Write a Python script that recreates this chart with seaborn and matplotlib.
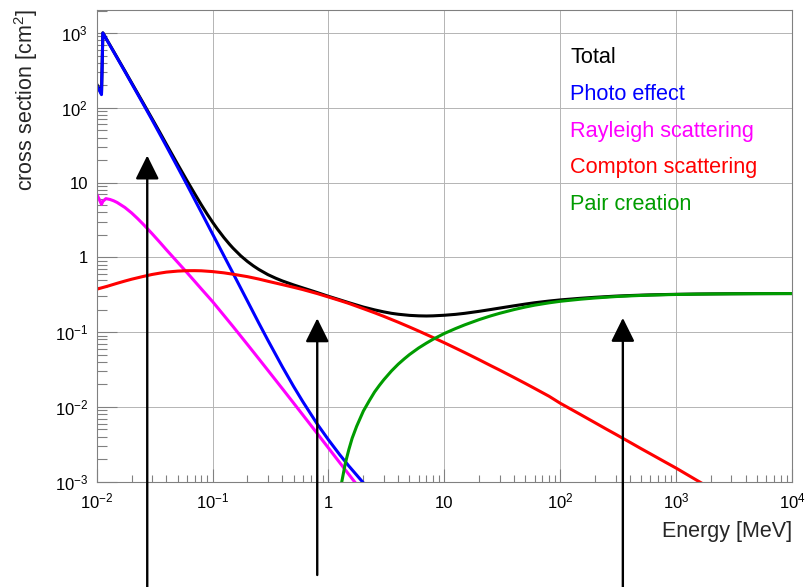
import matplotlib
matplotlib.use("Agg")
import matplotlib.pyplot as plt
from matplotlib.ticker import FixedLocator, FixedFormatter, LogLocator, NullFormatter
import numpy as np
import pandas as pd
import seaborn as sns

sns.set_theme(style="white")
plt.rcParams["font.family"] = ["Liberation Sans", "DejaVu Sans"]
plt.rcParams["mathtext.fontset"] = "custom"
plt.rcParams["mathtext.rm"] = "Liberation Sans"
plt.rcParams["mathtext.it"] = "Liberation Sans:italic"
plt.rcParams["mathtext.bf"] = "Liberation Sans:bold"

# ---- photon cross sections (germanium), energies in MeV ----
total_energy = [0.010, 0.0105, 0.011, 0.0113, 0.012, 0.0125, 0.013, 0.014, 0.015, 0.0175,
                0.02, 0.025, 0.03, 0.035, 0.04, 0.05, 0.06, 0.07, 0.08, 0.09,
                0.1, 0.11, 0.125, 0.14, 0.15, 0.175, 0.2, 0.225, 0.25, 0.3,
                0.35, 0.4, 0.5, 0.6, 0.7, 0.8, 1.0, 1.25, 1.5, 2.0,
                2.5, 3.0, 3.5, 4.0, 5.0, 6.0, 7.0, 8.0, 10, 12.5,
                15, 20, 25, 30, 40, 50, 60, 80, 100, 150,
                200, 300, 400, 500, 600, 800, 1000, 1500, 2000, 3000,
                5000, 10000]
total_xs = [207.4, 179.4, 155.5, 1006, 856.5, 768.4, 691.4, 567.1, 470.9, 311.1,
            216.4, 118.2, 71.87, 47.11, 32.40, 17.51, 10.69, 7.113, 5.039, 3.771,
            2.951, 2.394, 1.846, 1.496, 1.329, 1.048, 0.8803, 0.7689, 0.6903, 0.5879,
            0.5267, 0.4839, 0.4281, 0.3906, 0.3619, 0.3383, 0.3015, 0.2707, 0.2476, 0.2165,
            0.1985, 0.1866, 0.1785, 0.1735, 0.1676, 0.1652, 0.1644, 0.1652, 0.1682, 0.1729,
            0.1785, 0.1899, 0.2004, 0.2097, 0.2251, 0.2373, 0.2470, 0.2604, 0.2697, 0.2837,
            0.2924, 0.3031, 0.3087, 0.3124, 0.3150, 0.3183, 0.3204, 0.3233, 0.3246, 0.3261,
            0.3273, 0.3281]

photo_energy = [0.010, 0.0105, 0.011, 0.0113, 0.0125, 0.015, 0.0175, 0.02, 0.025, 0.03,
                0.04, 0.05, 0.06, 0.08, 0.1, 0.125, 0.15, 0.2, 0.25, 0.3,
                0.4, 0.5, 0.6, 0.8, 1.0, 1.25, 1.5, 2.0, 2.5, 3.0]
photo_xs = [200, 173, 150, 1000, 762, 465, 306, 212, 114.8, 69.2,
            30.5, 16.0, 9.4, 4.0, 2.05, 1.057, 0.615, 0.26, 0.1331, 0.078,
            0.0344, 0.0188, 0.0118, 0.0059, 0.00363, 0.0023, 0.00162, 0.000966, 0.000668, 0.000505]

rayleigh_energy = [0.010, 0.0105, 0.011, 0.0113, 0.012, 0.013, 0.014, 0.015, 0.0175, 0.02,
                   0.0225, 0.025, 0.03, 0.035, 0.04, 0.05, 0.06, 0.07, 0.08, 0.1,
                   0.125, 0.15, 0.2, 0.25, 0.3, 0.4, 0.5, 0.6, 0.8, 1.0,
                   1.25, 1.5, 2.0, 2.5, 3.0]
rayleigh_xs = [7.0, 6.0, 5.1, 5.6, 6.1, 5.95, 5.71, 5.42, 4.65, 3.93,
               3.31, 2.81, 2.08, 1.595, 1.26, 0.859, 0.628, 0.479, 0.378, 0.256,
               0.168, 0.119, 0.0683, 0.0442, 0.0309, 0.01754, 0.01127, 0.00784, 0.00441, 0.00282,
               0.0018, 0.00125, 0.000703, 0.00045, 0.000312]

compton_energy = [0.010, 0.0125, 0.015, 0.0175, 0.02, 0.025, 0.03, 0.035, 0.04, 0.05,
                  0.06, 0.07, 0.08, 0.1, 0.125, 0.15, 0.2, 0.25, 0.3, 0.4,
                  0.5, 0.6, 0.8, 1.0, 1.25, 1.5, 2.0, 2.5, 3.0, 4.0,
                  5.0, 6.0, 8.0, 10, 12.5, 15, 20, 25, 30, 40,
                  50, 60, 80, 100, 125, 150, 200, 250, 300, 400,
                  500, 600, 800, 1000, 1250, 1500, 2000, 2500]
compton_xs = [0.375, 0.413, 0.45, 0.482, 0.51, 0.554, 0.59, 0.615, 0.635, 0.655,
              0.663, 0.664, 0.661, 0.645, 0.621, 0.595, 0.552, 0.513, 0.479, 0.432,
              0.398, 0.371, 0.328, 0.295, 0.265, 0.242, 0.206, 0.1815, 0.1627, 0.1357,
              0.1171, 0.1035, 0.0846, 0.0721, 0.0611, 0.0533, 0.0427, 0.0358, 0.0311, 0.0247,
              0.0206, 0.0177, 0.0139, 0.0112, 0.00924, 0.00789, 0.00614, 0.00505, 0.00432, 0.00336,
              0.00276, 0.00236, 0.00184, 0.00152, 0.00124, 0.00105, 0.00081, 0.00066]

pair_energy = [1.25, 1.3, 1.4, 1.5, 1.6, 1.75, 2.0, 2.25, 2.5, 2.75,
               3.0, 3.5, 4.0, 4.5, 5.0, 6.0, 7.0, 8.0, 10, 12.5,
               15, 20, 25, 30, 40, 50, 60, 80, 100, 150,
               200, 300, 400, 500, 600, 800, 1000, 1500, 2000, 3000,
               4000, 5000, 6000, 8000, 10000]
pair_xs = [0.00064, 0.00098, 0.00178, 0.0027, 0.0038, 0.0055, 0.0088, 0.0121, 0.01585, 0.0194,
           0.02304, 0.0303, 0.0373, 0.0438, 0.0501, 0.0614, 0.0713, 0.0804, 0.096, 0.1117,
           0.1252, 0.1472, 0.1646, 0.1786, 0.2004, 0.2167, 0.2293, 0.2465, 0.2585, 0.2758,
           0.2863, 0.2988, 0.3053, 0.3096, 0.3126, 0.3165, 0.3189, 0.3222, 0.3238, 0.3255,
           0.3263, 0.3269, 0.3272, 0.3277, 0.3279]

names = ["Total", "Photo effect", "Rayleigh scattering", "Compton scattering", "Pair creation"]
colors = ["#000000", "#0000ff", "#ff00ff", "#ff0000", "#009c00"]

# marked energies (arrows)
arrow_energy = [0.0273, 0.80, 347.0]
arrow_tip = [23.0, 0.153, 0.155]

xtick_vals = [1e-2, 1e-1, 1, 10, 1e2, 1e3, 1e4]
xtick_labels = [r"$\mathregular{10^{-2}}$", r"$\mathregular{10^{-1}}$", "1", "10",
                r"$\mathregular{10^{2}}$", r"$\mathregular{10^{3}}$", r"$\mathregular{10^{4}}$"]
ytick_vals = [1e-3, 1e-2, 1e-1, 1, 10, 1e2, 1e3]
ytick_labels = [r"$\mathregular{10^{-3}}$", r"$\mathregular{10^{-2}}$", r"$\mathregular{10^{-1}}$",
                "1", "10", r"$\mathregular{10^{2}}$", r"$\mathregular{10^{3}}$"]

series = [
    pd.DataFrame({"E": total_energy, "xs": total_xs}),
    pd.DataFrame({"E": photo_energy, "xs": photo_xs}),
    pd.DataFrame({"E": rayleigh_energy, "xs": rayleigh_xs}),
    pd.DataFrame({"E": compton_energy, "xs": compton_xs}),
    pd.DataFrame({"E": pair_energy, "xs": pair_xs}),
]

W, H = 806, 587
x0, x1, y0, y1 = 96.7, 792.0, 9.7, 481.7
fig = plt.figure(figsize=(W / 100, H / 100), dpi=100)
ax = fig.add_axes([x0 / W, 1 - y1 / H, (x1 - x0) / W, (y1 - y0) / H])
ax.set_xscale("log")
ax.set_yscale("log")

for df, name, col in zip(series, names, colors):
    sns.lineplot(data=df, x="E", y="xs", color=col, lw=2.2, sort=False,
                 estimator=None, label=name, ax=ax)

ax.set_xlim(1e-2, 1e4)
ax.set_ylim(1e-3, 2050)

ax.xaxis.set_major_locator(FixedLocator(xtick_vals))
ax.xaxis.set_major_formatter(FixedFormatter(xtick_labels))
ax.xaxis.set_minor_locator(LogLocator(base=10, subs=np.arange(2, 10), numticks=100))
ax.xaxis.set_minor_formatter(NullFormatter())
ax.yaxis.set_major_locator(FixedLocator(ytick_vals))
ax.yaxis.set_major_formatter(FixedFormatter(ytick_labels))
ax.yaxis.set_minor_locator(LogLocator(base=10, subs=np.arange(2, 10), numticks=100))
ax.yaxis.set_minor_formatter(NullFormatter())

frame_col = "#808080"
ax.tick_params(axis="both", which="both", direction="in", top=False, right=False,
               bottom=True, left=True, color=frame_col, width=0.8, labelcolor="black")
ax.tick_params(axis="y", which="major", length=14.4, pad=6.3, labelsize=12)
ax.tick_params(axis="y", which="minor", length=7.2)
ax.tick_params(axis="x", which="major", length=9.6, pad=19, labelsize=12)
ax.tick_params(axis="x", which="minor", length=5)
for lbl in ax.get_xticklabels():
    lbl.set_verticalalignment("baseline")

for s in ax.spines.values():
    s.set_visible(True)
    s.set_color(frame_col)
    s.set_linewidth(0.8)

ax.grid(True, which="major", color="#b4b4b4", lw=0.7)
ax.set_axisbelow(True)

ax.set_xlabel("Energy [MeV]", fontsize=15.5, loc="right")
ax.xaxis.label.set_verticalalignment("baseline")
ax.xaxis.set_label_coords(1.0, -(537 - y1) / (y1 - y0))
ax.set_ylabel("cross section [cm$^2$]", fontsize=15.5, loc="top")
ax.yaxis.label.set_verticalalignment("baseline")
ax.yaxis.set_label_coords((33.3 - x0) / (x1 - x0), 1.0)

leg = ax.legend(handles=ax.lines[:5], labels=names, loc="upper left",
                bbox_to_anchor=((570 - x0) / (x1 - x0), 1 - (47.0 - y0) / (y1 - y0)),
                frameon=False, handlelength=0, handletextpad=0, borderpad=0,
                borderaxespad=0, labelspacing=0.73, fontsize=15.6, labelcolor="linecolor")
for h in leg.legend_handles:
    h.set_visible(False)

tails = [-10, 12, -10]
for e, tip, tail in zip(arrow_energy, arrow_tip, tails):
    ax.annotate("", xy=(e, tip), xycoords="data", xytext=(e, tail),
                textcoords=("data", "figure pixels"),
                arrowprops=dict(arrowstyle="-|>,head_length=14.5,head_width=7.2",
                                mutation_scale=1, color="black", lw=1.7,
                                shrinkA=0, shrinkB=0),
                annotation_clip=False, zorder=6)

fig.savefig("out.png", dpi=100)
